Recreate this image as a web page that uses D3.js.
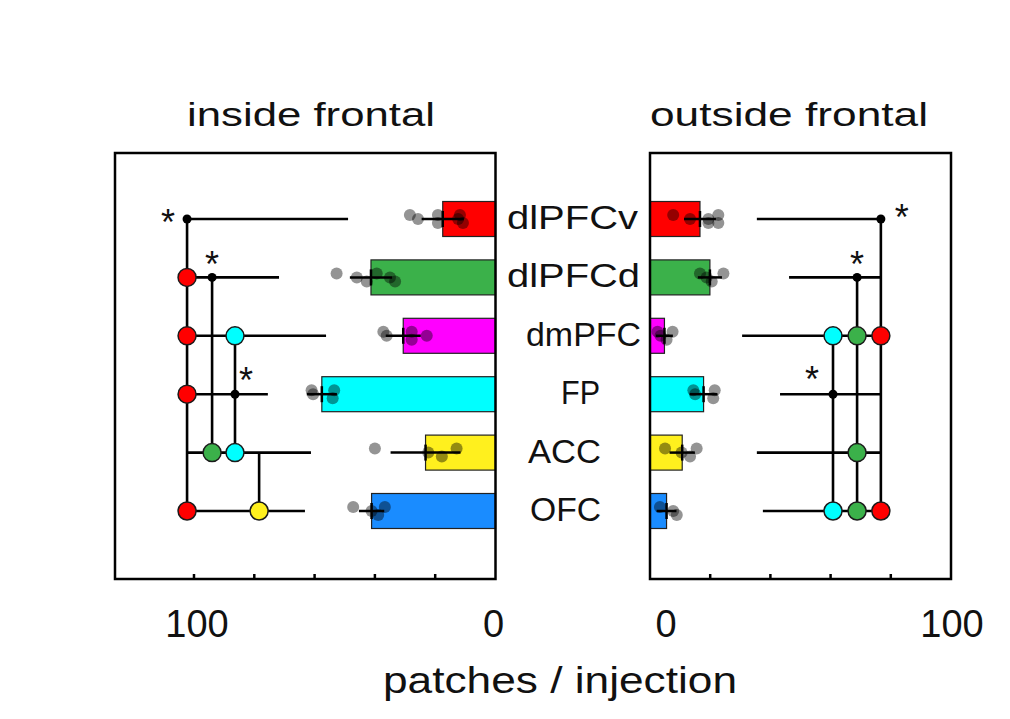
<!DOCTYPE html>
<html>
<head>
<meta charset="utf-8">
<script src="https://cdn.jsdelivr.net/npm/d3@7"></script>
<style>
  body { margin: 0; background: #fff; }
  text { font-family: "Liberation Sans", Arial, sans-serif; fill: #111; }
</style>
</head>
<body>
<div class="canva"></div>
<script>
// data
const cats = ["dlPFCv", "dlPFCd", "dmPFC", "FP", "ACC", "OFC"];
const colors = ["#ff0000", "#3bb14a", "#ff00ff", "#00ffff", "#fff01e", "#1a8cff"];

const insideMean = [17.5, 41.3, 30.6, 57.6, 23.2, 41.1];
const insideErr = [7, 7, 5.8, 5, 11.6, 4.2];
const insidePts = [
  [28.4, 25.7, 19.1, 19.1, 12.4, 10.8, 11.8],
  [52.7, 46, 42.7, 39.4, 35, 33.3],
  [37.2, 36.1, 27.8, 27.8, 22.8],
  [61, 60.5, 54, 53.5],
  [40, 22.3, 17.8, 12.9],
  [47.2, 41.1, 38.9, 36.7]
];
const insideReach = [48.9, 71.8, 56.2, 75.5, 61.2, 63.2];

const outsideMean = [16.6, 19.9, 4.8, 17.8, 10.7, 5.5];
const outsideErr = [5.3, 4, 2.8, 4.6, 4.2, 3.3];
const outsidePts = [
  [7.7, 13.3, 19.4, 22.7, 19.4, 22.7],
  [16.6, 18.8, 20.5, 24.4],
  [2.5, 3.5, 5.5, 7.5],
  [14.4, 15, 21, 21.5],
  [5, 10.5, 13.3, 15.5],
  [3.3, 7.7, 8.9]
];
const outsideReach = [35.5, 46.2, 30.6, 43.2, 35.5, 37.5];

// comparison columns: colour of src, vertical line from..to, circles on marks
const insideCols = [
  {src: "dlPFCv", at: 102.3, from: "dlPFCv", to: "OFC", marks: ["dlPFCd", "dmPFC", "FP", "OFC"], star: "w"},
  {src: "dlPFCd", at: 94, from: "dlPFCd", to: "ACC", marks: ["ACC"], star: "n"},
  {src: "FP", at: 86.4, from: "dmPFC", to: "ACC", marks: ["dmPFC", "ACC"], star: "ne"},
  {src: "ACC", at: 78.4, from: "ACC", to: "OFC", marks: ["OFC"], star: null}
];
const outsideCols = [
  {src: "dlPFCv", at: 76.7, from: "dlPFCv", to: "OFC", marks: ["dmPFC", "OFC"], star: "e"},
  {src: "dlPFCd", at: 68.8, from: "dlPFCd", to: "OFC", marks: ["dmPFC", "ACC", "OFC"], star: "n"},
  {src: "FP", at: 60.8, from: "dmPFC", to: "OFC", marks: ["dmPFC", "OFC"], star: "nw"}
];
const insideTicks = [20, 40, 60, 80, 100];
const outsideTicks = [20, 40, 60, 80];

const W = 1010, H = 719;
const svg = d3.select(".canva").append("svg")
  .attr("width", W).attr("height", H);

const frameTop = 153, frameBottom = 579;
const y = d3.scalePoint().domain(cats).range([219, 511]);
const color = d3.scaleOrdinal().domain(cats).range(colors);
const barH = 35;

const xIn = d3.scaleLinear().domain([0, 126.2]).range([495.5, 115]);
const xOut = d3.scaleLinear().domain([0, 100]).range([650, 951]);

// where the asterisk centre sits relative to its dot
const starOff = {w: [-19, -4], n: [0, -20], ne: [11, -21], e: [21, -9], nw: [-21, -22]};
const starSize = 36;

function panel(x, mean, err, pts, reach, cols, ticks) {
  const g = svg.append("g");
  const maxAt = d3.max(cols, c => c.at);

  // row lines
  g.selectAll(".row").data(cats).join("line")
    .attr("x1", (c, i) => x(reach[i]))
    .attr("x2", x(maxAt))
    .attr("y1", c => y(c)).attr("y2", c => y(c))
    .attr("stroke", "#000").attr("stroke-width", 2.6);

  // vertical column lines
  g.selectAll(".col").data(cols).join("line")
    .attr("x1", c => x(c.at)).attr("x2", c => x(c.at))
    .attr("y1", c => y(c.from)).attr("y2", c => y(c.to))
    .attr("stroke", "#000").attr("stroke-width", 2.6);

  // coloured circles
  cols.forEach(c => {
    g.selectAll(null).data(c.marks).join("circle")
      .attr("cx", x(c.at)).attr("cy", m => y(m)).attr("r", 9)
      .attr("fill", color(c.src)).attr("stroke", "#1a1a1a").attr("stroke-width", 1.5);
    if (c.star) {
      g.append("circle").attr("cx", x(c.at)).attr("cy", y(c.src)).attr("r", 4.5).attr("fill", "#000");
      const o = starOff[c.star];
      g.append("text").text("*")
        .attr("x", x(c.at) + o[0]).attr("y", y(c.src) + o[1] + starSize * 0.55)
        .attr("text-anchor", "middle").attr("font-size", starSize);
    }
  });

  // bars
  g.selectAll(".bar").data(cats).join("rect")
    .attr("x", (c, i) => Math.min(x(0), x(mean[i])))
    .attr("width", (c, i) => Math.abs(x(mean[i]) - x(0)))
    .attr("y", c => y(c) - barH / 2).attr("height", barH)
    .attr("fill", c => color(c)).attr("stroke", "#222").attr("stroke-width", 1.2);

  // individual points
  cats.forEach((c, i) => {
    g.selectAll(null).data(pts[i]).join("circle")
      .attr("cx", v => x(v))
      .attr("cy", (v, j) => y(c) + ((j % 3) - 1) * 4)
      .attr("r", 6).attr("fill", "#000").attr("fill-opacity", 0.42);
  });

  // error bars
  cats.forEach((c, i) => {
    g.append("line")
      .attr("x1", x(mean[i] - err[i])).attr("x2", x(mean[i] + err[i]))
      .attr("y1", y(c)).attr("y2", y(c))
      .attr("stroke", "#000").attr("stroke-width", 2.5);
    g.append("line")
      .attr("x1", x(mean[i])).attr("x2", x(mean[i]))
      .attr("y1", y(c) - 8).attr("y2", y(c) + 8)
      .attr("stroke", "#000").attr("stroke-width", 2.5);
  });

  // frame and ticks
  const [a, b] = x.range();
  g.append("rect")
    .attr("x", Math.min(a, b)).attr("y", frameTop)
    .attr("width", Math.abs(b - a)).attr("height", frameBottom - frameTop)
    .attr("fill", "none").attr("stroke", "#000").attr("stroke-width", 2.5);
  g.selectAll(".tick").data(ticks).join("line")
    .attr("x1", v => x(v)).attr("x2", v => x(v))
    .attr("y1", frameBottom).attr("y2", frameBottom - 5)
    .attr("stroke", "#000").attr("stroke-width", 2.5);
  return g;
}

panel(xIn, insideMean, insideErr, insidePts, insideReach, insideCols, insideTicks);
panel(xOut, outsideMean, outsideErr, outsidePts, outsideReach, outsideCols, outsideTicks);

// category labels, fitted to the widths seen in the figure
const labelFit = {
  dlPFCv: [507, 131], dlPFCd: [507, 133], dmPFC: [526, 115],
  FP: [561, 39], ACC: [528, 73], OFC: [530, 71]
};
svg.selectAll(".cat").data(cats).join("text")
  .text(c => c)
  .attr("x", c => labelFit[c][0]).attr("y", c => y(c) + 10)
  .attr("font-size", 33)
  .attr("textLength", c => labelFit[c][1]).attr("lengthAdjust", "spacingAndGlyphs");

// titles
svg.append("text").text("inside frontal")
  .attr("x", 187).attr("y", 126).attr("font-size", 34)
  .attr("textLength", 248).attr("lengthAdjust", "spacingAndGlyphs");
svg.append("text").text("outside frontal")
  .attr("x", 650).attr("y", 126).attr("font-size", 34)
  .attr("textLength", 278).attr("lengthAdjust", "spacingAndGlyphs");

// tick labels
svg.append("text").text("100").attr("x", xIn(100) + 3).attr("y", 637)
  .attr("text-anchor", "middle").attr("font-size", 38);
svg.append("text").text("0").attr("x", xIn(0) - 2).attr("y", 637)
  .attr("text-anchor", "middle").attr("font-size", 38);
svg.append("text").text("0").attr("x", xOut(0) + 16).attr("y", 637)
  .attr("text-anchor", "middle").attr("font-size", 38);
svg.append("text").text("100").attr("x", xOut(100) + 1).attr("y", 637)
  .attr("text-anchor", "middle").attr("font-size", 38);

// axis title
svg.append("text").text("patches / injection")
  .attr("x", 383).attr("y", 693).attr("font-size", 37)
  .attr("textLength", 354).attr("lengthAdjust", "spacingAndGlyphs");
</script>
</body>
</html>
